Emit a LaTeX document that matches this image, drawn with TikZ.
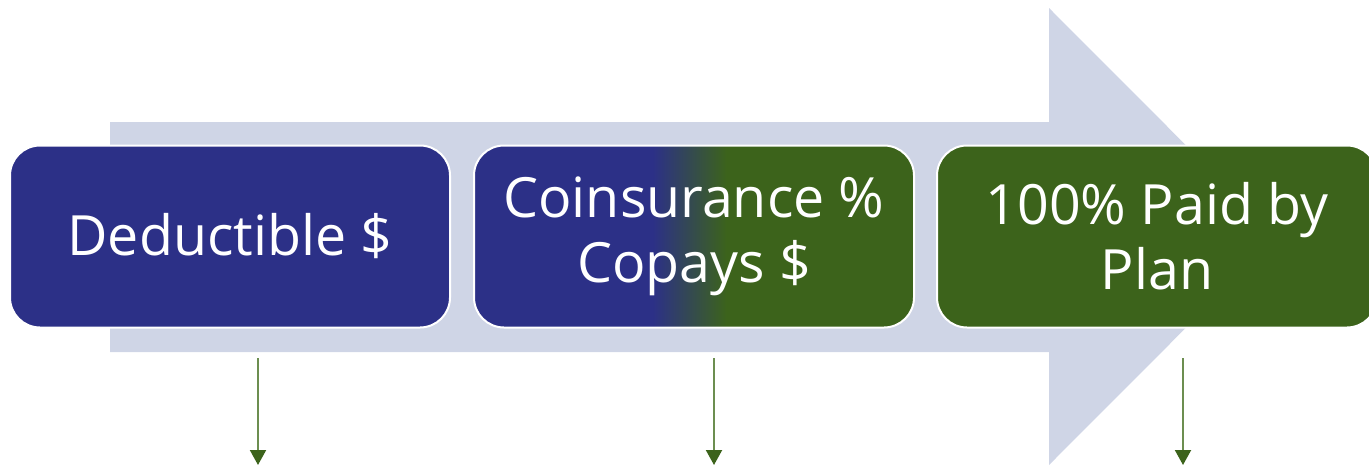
\documentclass[tikz,border=0pt]{standalone}
\usepackage{fontspec}
\setmainfont{Open Sans}
\usetikzlibrary{arrows.meta}

\definecolor{stageblue}{RGB}{44,48,135}
\definecolor{stagegreen}{RGB}{60,99,27}
\definecolor{flowgray}{RGB}{207,213,230}
\definecolor{tickgreen}{RGB}{108,142,80}

% blue-to-green blend used by the middle stage
\pgfdeclarehorizontalshading{bluegreen}{100bp}{%
  color(0bp)=(stageblue); color(45.3bp)=(stageblue);
  color(53.7bp)=(stagegreen); color(100bp)=(stagegreen)}

\tikzset{
  stagebox/.style={draw=white, line width=2pt, rounded corners=30pt,
    minimum width=440pt, minimum height=182pt, inner sep=0pt,
    text=white, align=center,
    font=\fontsize{55.5}{65}\selectfont},
  downtick/.style={draw=tickgreen, line width=2pt,
    -{Triangle[width=16pt,length=15pt,color=stagegreen,fill=stagegreen]}},
}

\begin{document}
\begin{tikzpicture}[x=1pt,y=-1pt]
  \useasboundingbox (0,0) rectangle (1369,466);
  \clip (0,0) rectangle (1369,466);

  % broad flow arrow behind the stages
  \fill[flowgray] (110,122) -- (1049,122) -- (1049,8) -- (1277,236.5)
    -- (1049,465) -- (1049,352) -- (110,352) -- cycle;

  % the three stages
  \node[stagebox, fill=stageblue] (deduct) at (230,236.5) {Deductible \$};
  \node[stagebox, shading=bluegreen] (coins) at (694,236.5)
    {Coinsurance \%\\Copays \$};
  \node[stagebox, fill=stagegreen] (plan) at (1157,236.5)
    {100\% Paid by\\Plan};

  % downward pointers under each stage
  \coordinate (d1) at (258,358);  \coordinate (d1e) at (258,465);
  \coordinate (d2) at (714,358);  \coordinate (d2e) at (714,465);
  \coordinate (d3) at (1183,358); \coordinate (d3e) at (1183,465);
  \draw[downtick] (d1) -- (d1e);
  \draw[downtick] (d2) -- (d2e);
  \draw[downtick] (d3) -- (d3e);
\end{tikzpicture}
\end{document}
